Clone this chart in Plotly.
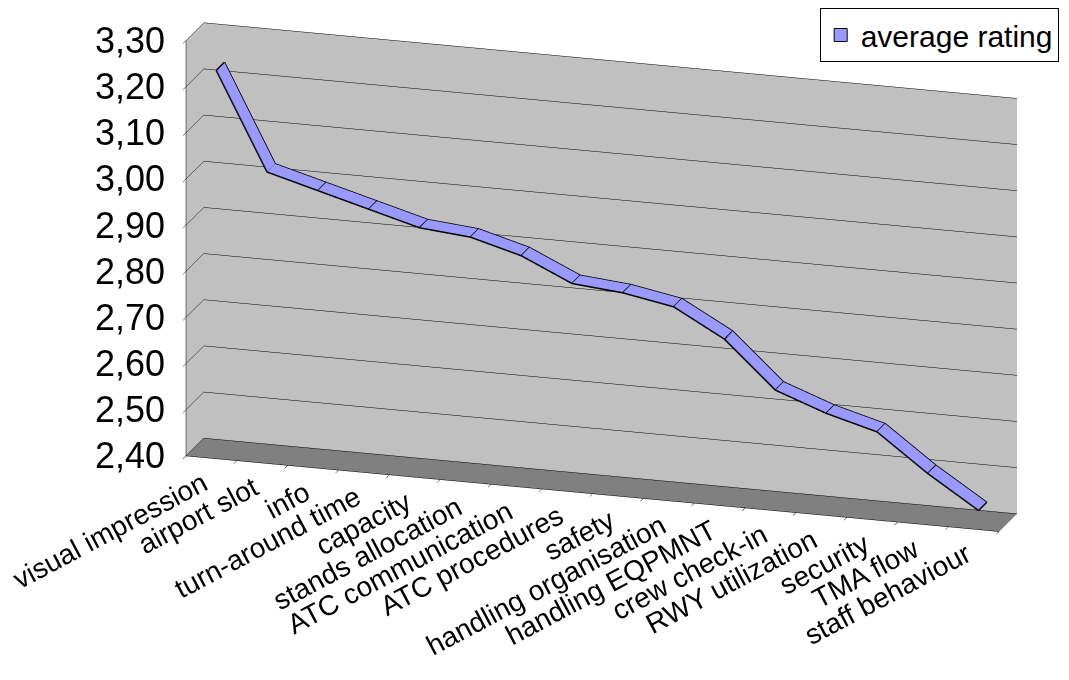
import math
import plotly.graph_objects as go

categories = ["visual impression", "airport slot", "info", "turn-around time", "capacity",
              "stands allocation", "ATC communication", "ATC procedures", "safety",
              "handling organisation", "handling EQPMNT", "crew check-in", "RWY utilization",
              "security", "TMA flow", "staff behaviour"]
ratings = [3.23, 3.02, 2.99, 2.96, 2.93, 2.92, 2.89, 2.84, 2.83, 2.81, 2.75, 2.65, 2.61, 2.58, 2.50, 2.43]
value_ticks = [2.40, 2.50, 2.60, 2.70, 2.80, 2.90, 3.00, 3.10, 3.20, 3.30]
value_tick_labels = ["2,40", "2,50", "2,60", "2,70", "2,80", "2,90", "3,00", "3,10", "3,20", "3,30"]
series_name = "average rating"

FONT = "Liberation Sans, Arial, sans-serif"
RIBBON = "#9999FF"

pos = list(range(1, len(categories) + 1))
bounds = [p - 0.5 for p in pos] + [pos[-1] + 0.5]
depth = [0.27, 0.73]
zmin, zmax = value_ticks[0], value_ticks[-1]

fig = go.Figure()

# ribbon of the 3D line
fig.add_trace(go.Surface(
    x=pos, y=depth, z=[ratings, ratings],
    colorscale=[[0, RIBBON], [1, RIBBON]], showscale=False,
    lighting=dict(ambient=1, diffuse=0, specular=0, roughness=1, fresnel=0),
    hoverinfo="skip", showlegend=False,
))

# outline of the ribbon
ox, oy, oz = [], [], []
for d in depth:
    ox += pos + [None]
    oy += [d] * len(pos) + [None]
    oz += ratings + [None]
for p, r in zip(pos, ratings):
    ox += [p, p, None]
    oy += [depth[0], depth[1], None]
    oz += [r, r, None]
fig.add_trace(go.Scatter3d(x=ox, y=oy, z=oz, mode="lines",
                           line=dict(color="black", width=3),
                           hoverinfo="skip", showlegend=False))

# legend entry
fig.add_trace(go.Scatter(x=[None], y=[None], mode="markers", name=series_name,
                         marker=dict(symbol="square", size=13, color=RIBBON,
                                     line=dict(color="black", width=1))))

annotations = []
for v, t in zip(value_ticks, value_tick_labels):
    annotations.append(dict(x=bounds[0], y=0, z=v, text=t, showarrow=False,
                            xanchor="right", yanchor="middle", xshift=-19,
                            font=dict(size=36, family=FONT, color="black")))
for p, c in zip(pos, categories):
    annotations.append(dict(x=p, y=0, z=zmin, text=c, showarrow=False, textangle=-28,
                            xanchor="right", yanchor="top", xshift=4, yshift=-6,
                            font=dict(size=28, family=FONT, color="black")))

th, ph = math.radians(17), math.radians(17)
dist = 2.0
eye = dict(x=dist * math.sin(th) * math.cos(ph), y=-dist * math.cos(th) * math.cos(ph),
           z=dist * math.sin(ph))
k = 1.58

fig.update_layout(
    width=1061, height=672,
    margin=dict(l=0, r=0, t=0, b=0),
    paper_bgcolor="white", plot_bgcolor="rgba(0,0,0,0)",
    font=dict(family=FONT, color="black"),
    xaxis=dict(visible=False), yaxis=dict(visible=False),
    showlegend=True,
    legend=dict(x=0.765, y=1.0, xanchor="left", yanchor="top",
                bordercolor="black", borderwidth=1, bgcolor="white",
                font=dict(size=30, family=FONT)),
    scene=dict(
        domain=dict(x=[0.119, 1], y=[0.179, 1]),
        xaxis=dict(range=[bounds[0], bounds[-1]], tickvals=bounds, showticklabels=False,
                   showgrid=False, showbackground=True, backgroundcolor="#C0C0C0",
                   showline=True, linecolor="black", zeroline=False, ticks="outside",
                   ticklen=8, tickcolor="black",
                   title=dict(text=""), showspikes=False),
        yaxis=dict(range=[0, 1], showgrid=False, showbackground=True, backgroundcolor="#C0C0C0",
                   showticklabels=False, ticks="", showline=False, zeroline=False,
                   title=dict(text=""), showspikes=False),
        zaxis=dict(range=[zmin, zmax], tickvals=value_ticks, showticklabels=False,
                   gridcolor="black", gridwidth=1, showbackground=True, backgroundcolor="#808080",
                   showline=True, linecolor="black", zeroline=False, ticks="outside",
                   ticklen=8, tickcolor="black",
                   title=dict(text=""), showspikes=False),
        aspectmode="manual", aspectratio=dict(x=1.95 * k, y=0.14 * k, z=1.0 * k),
        camera=dict(eye=eye, center=dict(x=0, y=0, z=-0.026),
                    up=dict(x=0, y=0, z=1), projection=dict(type="orthographic")),
        annotations=annotations,
    ),
)

fig.write_html("out.html")
